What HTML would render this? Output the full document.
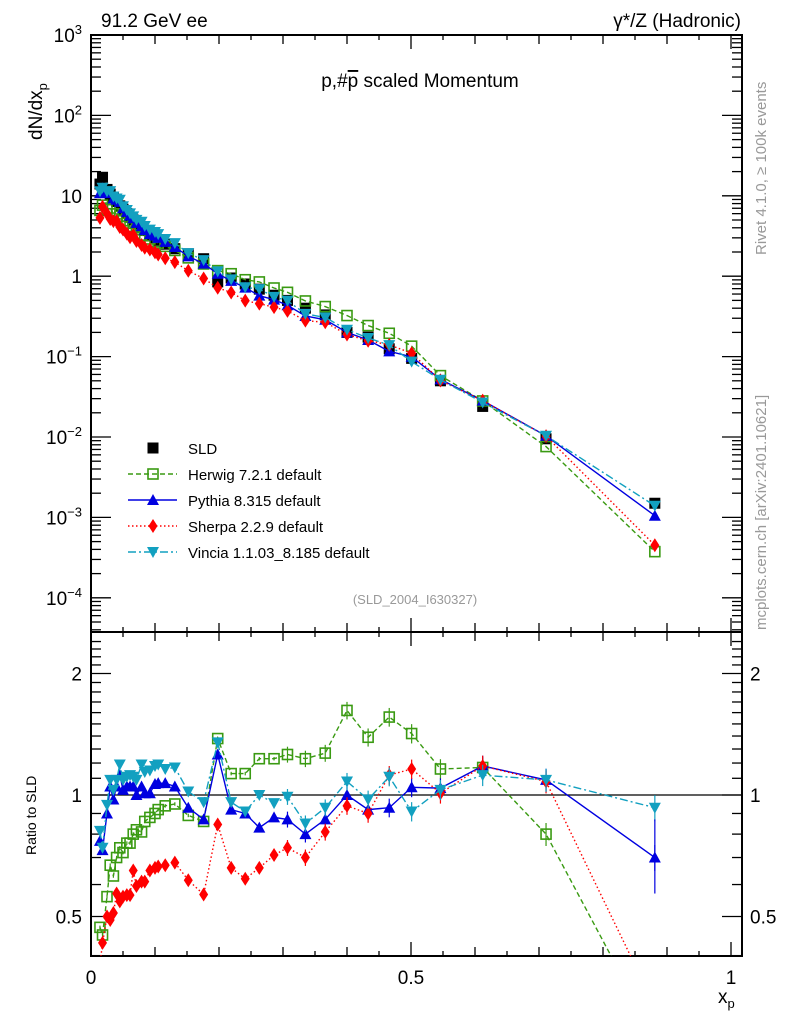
<!DOCTYPE html>
<html><head><meta charset="utf-8"><style>
html,body{margin:0;padding:0;background:#fff;}
svg{display:block;font-family:"Liberation Sans",sans-serif;}
</style></head><body>
<svg id="chart" width="786" height="1024" viewBox="0 0 786 1024" xmlns="http://www.w3.org/2000/svg">
<text x="101" y="27" font-size="19">91.2 GeV ee</text>
<text x="741" y="27" font-size="19" text-anchor="end">γ*/Z (Hadronic)</text>
<text x="420" y="87" font-size="19" text-anchor="middle">p,#<tspan text-decoration="overline">p</tspan> scaled Momentum</text>
<text x="415" y="604" font-size="13" fill="#999" text-anchor="middle">(SLD_2004_I630327)</text>
<text transform="translate(766,255) rotate(-90)" font-size="15" fill="#999">Rivet 4.1.0, ≥ 100k events</text>
<text transform="translate(766,630) rotate(-90)" font-size="15" fill="#999">mcplots.cern.ch [arXiv:2401.10621]</text>
<text transform="translate(42,140) rotate(-90)" font-size="19">dN/dx<tspan font-size="13" dy="5">p</tspan></text>
<text transform="translate(36,855) rotate(-90)" font-size="14">Ratio to SLD</text>
<text x="718" y="1003" font-size="19">x<tspan font-size="13" dy="5">p</tspan></text>
<g id="g"></g>
</svg>
<script>
const xs=[0.014,0.018,0.025,0.030,0.035,0.040,0.045,0.050,0.056,0.061,0.066,0.071,0.079,0.084,0.092,0.100,0.105,0.116,0.131,0.152,0.176,0.198,0.219,0.241,0.263,0.286,0.307,0.335,0.366,0.400,0.433,0.466,0.501,0.546,0.612,0.711,0.881];
const sld=[14,17,12,10.5,9.5,8.5,7.5,6.8,6.0,5.4,5.0,4.6,4.0,3.7,3.3,3.0,2.8,2.5,2.2,1.9,1.65,0.85,0.95,0.8,0.69,0.58,0.5,0.40,0.33,0.20,0.175,0.125,0.095,0.05,0.024,0.0095,0.0015];
const herwigRatio=[0.47,0.45,0.56,0.67,0.63,0.70,0.74,0.72,0.76,0.76,0.80,0.82,0.81,0.86,0.88,0.90,0.92,0.94,0.95,0.89,0.86,1.38,1.13,1.13,1.23,1.23,1.26,1.23,1.27,1.62,1.39,1.56,1.42,1.16,1.17,0.80,0.25];
const pythiaRatio=[0.77,0.73,0.90,1.05,0.975,1.05,1.12,1.03,1.05,1.05,1.05,1.0,1.05,1.01,1.01,1.065,1.07,1.07,1.05,0.93,0.87,1.26,0.92,0.90,0.83,0.88,0.87,0.80,0.87,1.0,0.92,0.93,1.045,1.04,1.18,1.09,0.70];
const sherpaRatio=[0.38,0.43,0.50,0.49,0.51,0.57,0.545,0.56,0.565,0.565,0.65,0.595,0.61,0.61,0.65,0.66,0.665,0.67,0.68,0.615,0.567,0.845,0.66,0.62,0.66,0.71,0.74,0.70,0.81,0.94,0.90,1.12,1.16,1.01,1.18,1.08,0.30];
const vinciaRatio=[0.815,0.74,0.945,1.09,1.03,1.09,1.19,1.09,1.11,1.12,1.11,1.09,1.19,1.14,1.15,1.18,1.19,1.16,1.17,1.02,0.96,1.35,0.96,0.91,1.0,0.955,0.99,0.85,0.93,1.08,0.975,1.11,0.91,1.03,1.12,1.09,0.93];
const mainTicks=["10<tspan font-size='13' dy='-8'>3</tspan>","10<tspan font-size='13' dy='-8'>2</tspan>","10","1","10<tspan font-size='13' dy='-8'>−1</tspan>","10<tspan font-size='13' dy='-8'>−2</tspan>","10<tspan font-size='13' dy='-8'>−3</tspan>","10<tspan font-size='13' dy='-8'>−4</tspan>"];
const xTickLabels=["0","0.5","1"];

const NS="http://www.w3.org/2000/svg";
const G=document.getElementById('g');
const L=91,R=742,T1=35,B1=632,T2=632,B2=956;
const X=v=>91+v*640;
const Y1=v=>35+(3-Math.log10(v))*80.4;
const Y2=v=>795-Math.log2(v)*121.5;
function mk(tag,at,parent){const e=document.createElementNS(NS,tag);for(const k in at)e.setAttribute(k,at[k]);(parent||G).appendChild(e);return e;}

// clip paths
const defs=mk('defs',{});
const c1=mk('clipPath',{id:'c1'},defs);mk('rect',{x:L,y:T1,width:R-L,height:B1-T1},c1);
const c2=mk('clipPath',{id:'c2'},defs);mk('rect',{x:L,y:T2,width:R-L,height:B2-T2},c2);

// frames
let f=mk('rect',{x:L,y:T1,width:R-L,height:B1-T1,fill:'none',stroke:'#000','stroke-width':2});


f=mk('rect',{x:L,y:T2,width:R-L,height:B2-T2,fill:'none',stroke:'#000','stroke-width':2});



// x ticks
for(let i=0;i<=20;i++){const v=i*0.05,px=X(v);const len=i%10==0?14:(i%2==0?9:5);
 [[B1,-1],[T1,1],[B2,-1],[T2,1]].forEach(([y,d])=>mk('line',{x1:px,x2:px,y1:y,y2:y+d*len,stroke:'#000','stroke-width':1.3}));}
xTickLabels.forEach((t,i)=>{const e=mk('text',{x:X(i*0.5),y:984,'font-size':19,'text-anchor':'middle'});e.textContent=t;
 
 });

// main y ticks
for(let d=-5;d<3;d++){for(let m=1;m<10;m++){const v=m*Math.pow(10,d);const y=Y1(v);if(y<T1-0.5||y>B1)continue;const len=m==1?20:10;
 mk('line',{x1:L,x2:L+len,y1:y,y2:y,stroke:'#000','stroke-width':1.3});mk('line',{x1:R,x2:R-len,y1:y,y2:y,stroke:'#000','stroke-width':1.3});}}
mk('line',{x1:L,x2:L+20,y1:Y1(1000),y2:Y1(1000),stroke:'#000','stroke-width':1.3});
mainTicks.forEach((t,i)=>{const y=Y1(Math.pow(10,3-i));const e=mk('text',{x:82,y:y+7,'font-size':19,'text-anchor':'end'});e.innerHTML=t;
 
 });

// ratio ticks
for(let v=0.4;v<=2.5;v+=0.1){const vv=Math.round(v*10)/10;const y=Y2(vv);if(y<T2||y>B2)continue;const maj=(vv==0.5||vv==1||vv==2);const len=maj?20:10;
 mk('line',{x1:L,x2:L+len,y1:y,y2:y,stroke:'#000','stroke-width':1.3});mk('line',{x1:R,x2:R-len,y1:y,y2:y,stroke:'#000','stroke-width':1.3});}
[[2,"2"],[1,"1"],[0.5,"0.5"]].forEach(([v,t])=>{
 let e=mk('text',{x:82,y:Y2(v)+7,'font-size':19,'text-anchor':'end'});e.textContent=t;
 
 
 e=mk('text',{x:750,y:Y2(v)+7,'font-size':19});e.textContent=t;
 
 });
mk('line',{x1:L,x2:R,y1:Y2(1),y2:Y2(1),stroke:'#000','stroke-width':1.3});

function marker(type,x,y,col,parent){
 if(type=='sq')return mk('rect',{x:x-5.5,y:y-5.5,width:11,height:11,fill:'#000'},parent);
 if(type=='osq')return mk('rect',{x:x-5,y:y-5,width:10,height:10,fill:'none',stroke:col,'stroke-width':1.6},parent);
 if(type=='tri')return mk('polygon',{points:`${x},${y-6} ${x-6},${y+5} ${x+6},${y+5}`,fill:col},parent);
 if(type=='dtri')return mk('polygon',{points:`${x},${y+6} ${x-6},${y-5} ${x+6},${y-5}`,fill:col},parent);
 if(type=='dia')return mk('polygon',{points:`${x},${y-7} ${x-4.5},${y} ${x},${y+7} ${x+4.5},${y}`,fill:col},parent);
}
const series=[
 {name:'herwig',r:herwigRatio,col:'#3a9a12',dash:'5,3',m:'osq',label:'Herwig 7.2.1 default'},
 {name:'pythia',r:pythiaRatio,col:'#0000e0',dash:'',m:'tri',label:'Pythia 8.315 default'},
 {name:'sherpa',r:sherpaRatio,col:'#ff0000',dash:'1.5,2.5',m:'dia',label:'Sherpa 2.2.9 default'},
 {name:'vincia',r:vinciaRatio,col:'#12a0c0',dash:'8,3,2,3',m:'dtri',label:'Vincia 1.1.03_8.185 default'}];

// data in main
const gd=mk('g',{'clip-path':'url(#c1)'});


xs.forEach((x,i)=>marker('sq',X(x),Y1(sld[i]),'#000',gd));

series.forEach(s=>{
 const vals=xs.map((x,i)=>sld[i]*s.r[i]);
 const g1=mk('g',{'clip-path':'url(#c1)'});
 
 
 mk('polyline',{points:xs.map((x,i)=>X(x)+','+Y1(vals[i])).join(' '),fill:'none',stroke:s.col,'stroke-width':1.4,'stroke-dasharray':s.dash},g1);
 xs.forEach((x,i)=>marker(s.m,X(x),Y1(vals[i]),s.col,g1));
 const g2=mk('g',{'clip-path':'url(#c2)'});
 
 
 mk('polyline',{points:xs.map((x,i)=>X(x)+','+Y2(s.r[i])).join(' '),fill:'none',stroke:s.col,'stroke-width':1.4,'stroke-dasharray':s.dash},g2);
 xs.forEach((x,i)=>{const ex=x>0.3?0.03+x*0.05:0.01;mk('line',{x1:X(x),x2:X(x),y1:Y2(s.r[i]*(1+ex)),y2:Y2(s.r[i]*(1-ex)),stroke:s.col,'stroke-width':1.2},g2);
  marker(s.m,X(x),Y2(s.r[i]),s.col,g2);});
});
// last point big error on pythia ratio
mk('line',{x1:X(0.881),x2:X(0.881),y1:Y2(0.87),y2:Y2(0.57),stroke:'#0000e0','stroke-width':1.2});

// legend
const leg=mk('g',{});


let ly=448;
marker('sq',153,ly,'#000',leg);
let t=mk('text',{x:188,y:ly+6,'font-size':15},leg);t.textContent='SLD';
series.forEach((s,i)=>{const y=474+i*26;
 const e=mk('g',{},leg);
 
 
 mk('line',{x1:128,x2:177,y1:y,y2:y,stroke:s.col,'stroke-width':1.4,'stroke-dasharray':s.dash},e);
 marker(s.m,153,y,s.col,e);
 const tt=mk('text',{x:188,y:y+6,'font-size':15},e);tt.textContent=s.label;});
</script>
</body></html>
